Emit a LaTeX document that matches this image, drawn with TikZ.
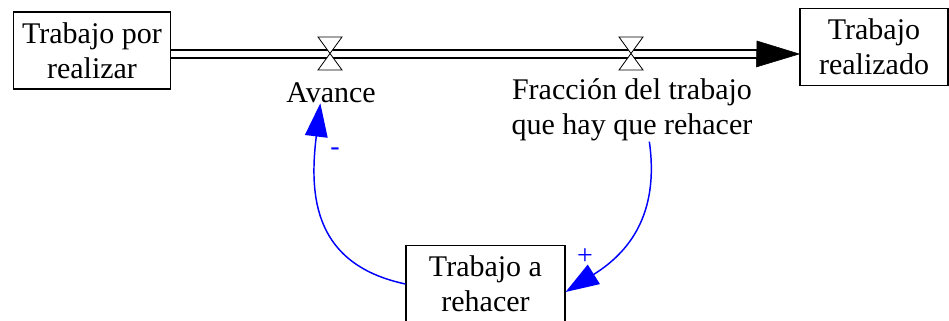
\documentclass[tikz,border=0pt]{standalone}
\usepackage{fontspec}
\setmainfont{Liberation Serif}
\usepackage{tikz}
\usetikzlibrary{arrows.meta}

\begin{document}
\begin{tikzpicture}[x=0.75pt,y=0.75pt,
	nivel/.style={draw,line width=1.1pt,align=center,inner sep=0pt,font=\fontsize{22.5}{26.5}\selectfont},
	texto/.style={align=center,inner sep=0pt,font=\fontsize{22.5}{26.5}\selectfont},
	flujo/.style={draw,line width=1.6pt,double distance=4.4pt},
	causal/.style={draw,blue,line width=1.1pt,-{Triangle[length=25pt,width=17pt]}},
	signo/.style={blue,inner sep=0pt,font=\fontsize{21}{24}\selectfont},
	valvula/.pic={\draw[fill=white,line width=0.6pt] (-12,17) -- (12,17) -- (-12,-16) -- (12,-16) -- cycle;}]
	\useasboundingbox (0,0) rectangle (949,321);
	\clip (0,0) rectangle (949,321);
	% niveles
	\node[nivel,minimum width=118pt,minimum height=58pt] (porrealizar) at (92,270.5) {Trabajo por\\realizar};
	\node[nivel,minimum width=111pt,minimum height=58pt] (realizado) at (874,274) {Trabajo\\realizado};
	\node[nivel,minimum width=119pt,minimum height=58pt] (rehacer) at (485.5,37) {Trabajo a\\rehacer};
	% flujo principal
	\coordinate (punta) at (757,267);
	\draw[flujo] (porrealizar.east |- punta) -- (punta);
	\draw[fill=black] (punta) ++(0,13) -- (realizado.west |- punta) -- ++(-43,-13) -- cycle;
	\pic at (330,267) {valvula};
	\pic at (631,267) {valvula};
	\node[texto] (avance) at (331,228) {Avance};
	\node[texto] (fraccion) at (632,211) {Fracción del trabajo\\que hay que rehacer};
	% relaciones causales
	\draw[causal] (rehacer.west) to[out=168,in=-97,looseness=1.2] ([xshift=-8pt]avance.south);
	\draw[causal] ([xshift=13pt]fraccion.south) to[out=-82,in=32,looseness=1.1] ([yshift=-6pt]rehacer.east);
	\node[signo] (menos) at (335,169) {-};
	\node[signo] (mas) at (585,64) {+};
\end{tikzpicture}
\end{document}
